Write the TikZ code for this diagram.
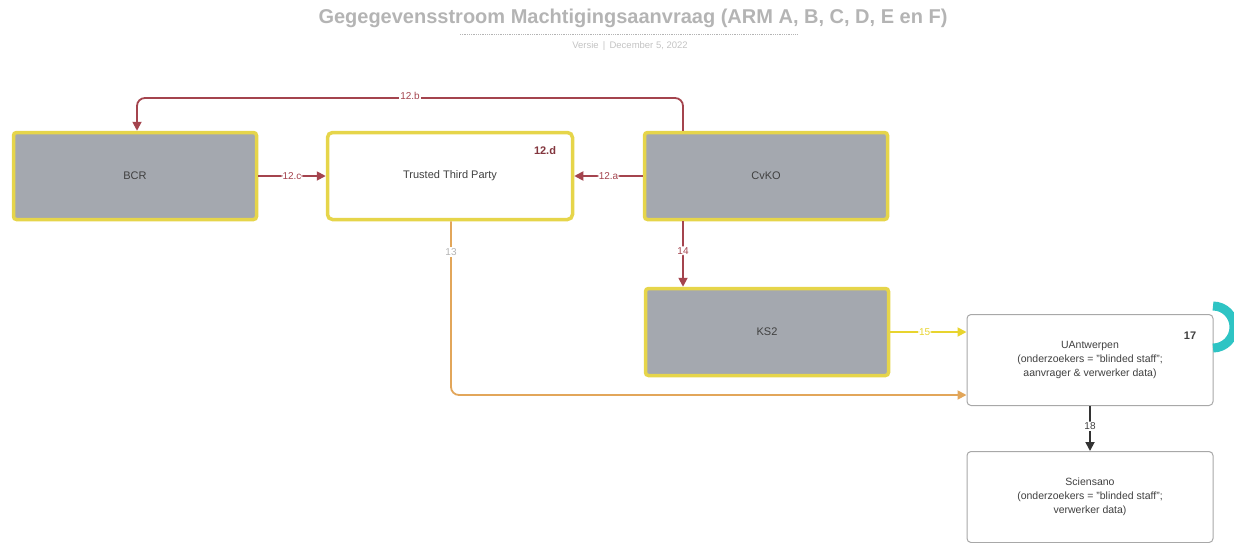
\documentclass[tikz,border=0pt]{standalone}
\usepackage{fontspec}
\setmainfont{Liberation Sans}
\usetikzlibrary{arrows.meta}
\definecolor{boxgray}{HTML}{A4A8AF}
\definecolor{boxyellow}{HTML}{E6D54A}
\definecolor{maroon}{HTML}{A4444E}
\definecolor{orangeline}{HTML}{E2A65A}
\definecolor{yline}{HTML}{E8D42E}
\definecolor{plainborder}{HTML}{A8A8A8}
\definecolor{titlegray}{HTML}{B4B4B4}
\definecolor{tealc}{HTML}{2EC4C4}
\begin{document}
\begin{tikzpicture}[x=1pt,y=-1pt,
  every node/.style={font=\fontsize{11}{13}\selectfont, text=black!75},
  graybox/.style={draw=boxyellow, line width=3.5pt, fill=boxgray, rounded corners=3pt, minimum width=243pt, minimum height=87pt, inner sep=0pt},
  ybox/.style={draw=boxyellow, line width=3.5pt, fill=white, rounded corners=5pt, minimum width=245pt, minimum height=87pt, inner sep=0pt},
  plainbox/.style={draw=plainborder, line width=1pt, fill=white, rounded corners=4pt, minimum width=246pt, minimum height=91pt, inner sep=0pt, align=center, font=\fontsize{10.5}{14}\selectfont},
  conn/.style={line width=1.8pt, rounded corners=8pt, -{Triangle[length=9pt,width=9pt]}},
  lbl/.style={fill=white, inner sep=1pt, font=\fontsize{10}{12}\selectfont},
  badge/.style={font=\bfseries\fontsize{11}{13}\selectfont}]
\useasboundingbox (0,0) rectangle (1234,542);
% title
\node[font=\bfseries\fontsize{20}{24}\selectfont, text=titlegray] (title) at (633,18) {Gegegevensstroom Machtigingsaanvraag (ARM A, B, C, D, E en F)};
\draw[titlegray, line width=0.8pt, densely dotted] (460,34) -- (798,34);
\node[font=\fontsize{9.5}{11}\selectfont, text=titlegray!80] (sub) at (630,46) {Versie \,|\, December 5, 2022};
% boxes
\node[graybox] (bcr) at (135,176) {BCR};
\node[ybox] (ttp) at (450,176) {Trusted Third Party};
\node[badge, text=maroon!80!black] (b12d) at (545,151) {12.d};
\node[graybox] (cvko) at (766,176) {CvKO};
\node[graybox] (ks2) at (767,332) {KS2};
\node[plainbox] (ua) at (1090,360) {UAntwerpen\\(onderzoekers = "blinded staff";\\aanvrager \& verwerker data)};
\node[badge] (b17) at (1190,336) {17};
\node[plainbox] (sci) at (1090,497) {Sciensano\\(onderzoekers = "blinded staff";\\verwerker data)};
% connectors
\coordinate (c12b1) at (683,98);
\coordinate (c12b2) at (137,98);
\draw[conn, maroon] (cvko.north -| c12b1) -- (c12b1) -- (c12b2) -- (bcr.north -| c12b2);
\node[lbl, text=maroon] (l12b) at (410,96) {12.b};
\draw[conn, maroon] (bcr.east) -- (ttp.west) node[lbl, midway, text=maroon] (l12c) {12.c};
\draw[conn, maroon] (cvko.west) -- (ttp.east) node[lbl, midway, text=maroon] (l12a) {12.a};
\draw[conn, maroon] (cvko.south -| c12b1) -- (ks2.north -| c12b1) node[lbl, pos=0.45, text=maroon] (l14) {14};
\coordinate (c13) at (451,395);
\draw[conn, orangeline] (ttp.south -| c13) -- (c13) -- (ua.west |- c13);
\node[lbl, text=titlegray] (l13) at (451,252) {13};
\draw[conn, yline] (ks2.east |- 0,332) -- (ua.west |- 0,332) node[lbl, pos=0.45, text=yline] (l15) {15};
\draw[conn, black!80, -{Triangle[length=9pt,width=9pt]}] (ua.south) -- (sci.north) node[lbl, pos=0.45] (l18) {18};
% teal arc at right edge
\draw[tealc, line width=9pt] (1213,306) arc[start angle=-90, end angle=90, radius=21];
\end{tikzpicture}
\end{document}
